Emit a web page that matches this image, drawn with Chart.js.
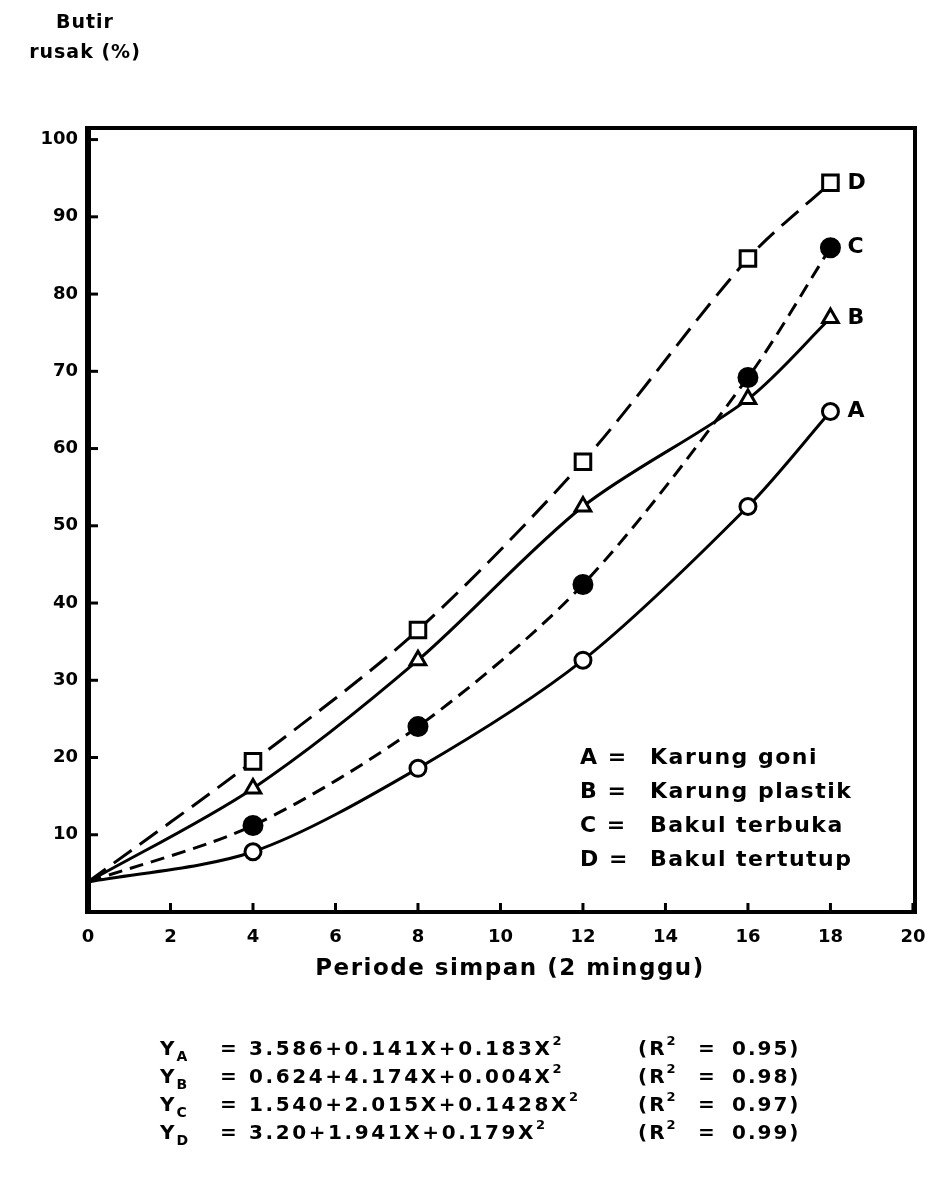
<!DOCTYPE html>
<html>
<head>
<meta charset="utf-8">
<script src="https://cdn.jsdelivr.net/npm/chart.js"></script>
<style>
  html, body { margin: 0; padding: 0; background: #fff; }
  #wrap { position: relative; width: 930px; height: 1197px; overflow: hidden; }
  #chart { position: absolute; left: 0; top: 0; }
  .txt { position: absolute; font-family: "DejaVu Sans", sans-serif; font-weight: bold; color: #000; white-space: nowrap; }
  #ytitle { left: 10px; top: 6px; width: 150px; text-align: center; font-size: 19px; line-height: 30px; letter-spacing: 1px; }
  #xtitle { left: 210px; top: 954px; width: 600px; text-align: center; font-size: 23px; letter-spacing: 1.5px; }
  #legend { left: 580px; top: 740px; font-size: 22px; line-height: 34px; letter-spacing: 1.5px; }
  #legend span { display: inline-block; width: 70px; }
  #eqs { left: 160px; top: 1034px; font-size: 20px; line-height: 28px; letter-spacing: 2px; }
  #eqs .row { position: relative; height: 28px; }
  #eqs .y { position: absolute; left: 0; }
  #eqs .y sub { font-size: 14px; position: relative; top: 6px; vertical-align: baseline; }
  #eqs .f { position: absolute; left: 60px; letter-spacing: 2.6px; }
  #eqs .r { position: absolute; left: 478px; }
  #eqs .r b { display: inline-block; width: 60px; font-weight: bold; }
  #eqs .r i { font-style: normal; display: inline-block; width: 34px; }
  sup { font-size: 13px; vertical-align: baseline; position: relative; top: -10px; }
</style>
</head>
<body>
<div id="wrap">
  <canvas id="chart" width="930" height="1197"></canvas>
  <div class="txt" id="ytitle">Butir<br>rusak (%)</div>
  <div class="txt" id="xtitle">Periode simpan (2 minggu)</div>
  <div class="txt" id="legend"></div>
  <div class="txt" id="eqs"></div>
</div>
<script>
// data
const periods = [0, 4, 8, 12, 16, 18];
const seriesA = [3.9, 7.8, 18.6, 32.6, 52.5, 64.8];
const seriesB = [3.9, 16.0, 32.6, 52.5, 66.4, 76.9];
const seriesC = [3.9, 11.2, 24.0, 42.4, 69.2, 86.0];
const seriesD = [3.9, 19.5, 36.5, 58.3, 84.6, 94.4];
const seriesKeys = ['A', 'B', 'C', 'D'];
const seriesNames = ['Karung goni', 'Karung plastik', 'Bakul terbuka', 'Bakul tertutup'];
const xTicks = [0, 2, 4, 6, 8, 10, 12, 14, 16, 18, 20];
const yTicks = [10, 20, 30, 40, 50, 60, 70, 80, 90, 100];
const equations = [
  ['3.586+0.141X+0.183X', '0.95'],
  ['0.624+4.174X+0.004X', '0.98'],
  ['1.540+2.015X+0.1428X', '0.97'],
  ['3.20+1.941X+0.179X', '0.99']
];

// legend + equations as text
document.getElementById('legend').innerHTML = seriesKeys.map((k, i) =>
  '<div><span>' + k + ' =</span>' + seriesNames[i] + '</div>').join('');
document.getElementById('eqs').innerHTML = seriesKeys.map((k, i) =>
  '<div class="row"><span class="y">Y<sub>' + k + '</sub></span>' +
  '<span class="f">= ' + equations[i][0] + '<sup>2</sup></span>' +
  '<span class="r"><b>(R<sup>2</sup></b><i>=</i>' + equations[i][1] + ')</span></div>').join('');

const toPts = arr => periods.map((x, i) => ({ x: x, y: arr[i] }));
const radius = r => periods.map((p, i) => i === 0 ? 0 : r);

const styles = [
  { data: seriesA, pointStyle: 'circle', r: 8, fill: '#fff', dash: [] },
  { data: seriesB, pointStyle: 'triangle', r: 9, fill: '#fff', dash: [] },
  { data: seriesC, pointStyle: 'circle', r: 9, fill: '#000', dash: [14, 8] },
  { data: seriesD, pointStyle: 'rect', r: 11, fill: '#fff', dash: [22, 10] }
];

const datasets = styles.map((s, i) => ({
  label: seriesKeys[i],
  data: toPts(s.data),
  borderColor: '#000',
  borderWidth: 3,
  borderDash: s.dash,
  backgroundColor: s.fill,
  pointStyle: s.pointStyle,
  pointRadius: radius(s.r),
  pointBorderWidth: 3,
  pointBorderColor: '#000',
  pointBackgroundColor: s.fill,
  tension: 0.3,
  fill: false
}));

const frame = {
  id: 'frame',
  afterDraw(chart) {
    const { ctx, chartArea: a, scales } = chart;
    ctx.save();
    ctx.strokeStyle = '#000';
    ctx.lineWidth = 4;
    ctx.strokeRect(a.left, a.top, a.right - a.left, a.bottom - a.top);
    ctx.lineWidth = 6;
    ctx.beginPath();
    ctx.moveTo(a.left, a.top - 2);
    ctx.lineTo(a.left, a.bottom + 2);
    ctx.stroke();
    // inward tick marks
    ctx.lineWidth = 3;
    yTicks.forEach(v => {
      const y = scales.y.getPixelForValue(v);
      ctx.beginPath(); ctx.moveTo(a.left, y); ctx.lineTo(a.left + 10, y); ctx.stroke();
    });
    xTicks.forEach(v => {
      const x = scales.x.getPixelForValue(v);
      ctx.beginPath(); ctx.moveTo(x, a.bottom); ctx.lineTo(x, a.bottom - 9); ctx.stroke();
    });
    // series letters at the line ends
    ctx.fillStyle = '#000';
    ctx.font = 'bold 22px "DejaVu Sans"';
    ctx.textBaseline = 'middle';
    chart.data.datasets.forEach((ds, i) => {
      const pts = chart.getDatasetMeta(i).data;
      const last = pts[pts.length - 1];
      ctx.fillText(ds.label, last.x + 17, last.y);
    });
    ctx.restore();
  }
};

new Chart(document.getElementById('chart'), {
  type: 'line',
  data: { datasets: datasets },
  options: {
    responsive: false,
    animation: false,
    layout: { padding: { left: 28, right: 15, top: 128, bottom: 245 } },
    plugins: { legend: { display: false }, tooltip: { enabled: false } },
    scales: {
      x: {
        type: 'linear',
        min: 0,
        max: 20.05,
        afterBuildTicks: s => { s.ticks = xTicks.map(v => ({ value: v })); },
        afterFit: s => { s.height = 40; s.paddingLeft = 0; s.paddingRight = 0; },
        grid: { display: false, drawTicks: false },
        border: { display: false },
        ticks: { color: '#000', padding: 15, font: { family: 'DejaVu Sans', size: 18, weight: 'bold' } }
      },
      y: {
        type: 'linear',
        min: 0,
        max: 101.5,
        afterBuildTicks: s => { s.ticks = yTicks.map(v => ({ value: v })); },
        afterFit: s => { s.width = 60; s.paddingTop = 0; s.paddingBottom = 0; },
        grid: { display: false, drawTicks: false },
        border: { display: false },
        ticks: { color: '#000', padding: 10, font: { family: 'DejaVu Sans', size: 18, weight: 'bold' } }
      }
    }
  },
  plugins: [frame]
});
</script>
</body>
</html>
